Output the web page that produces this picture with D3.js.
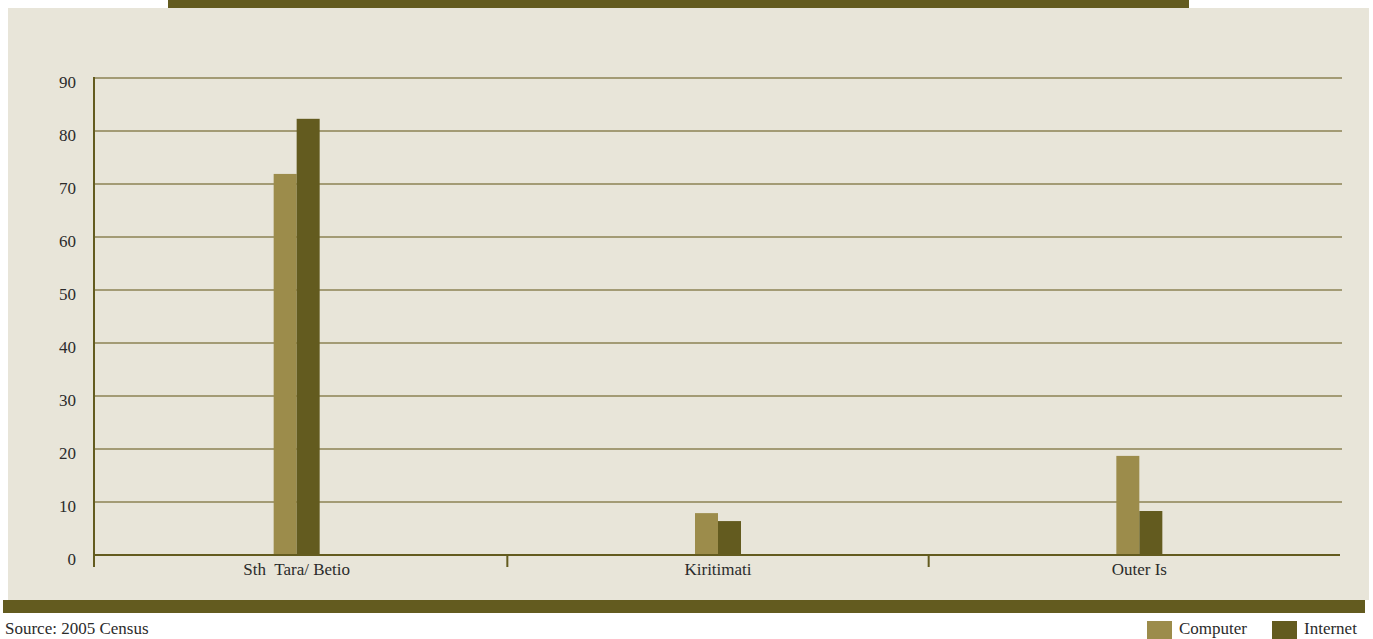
<!DOCTYPE html>
<html>
<head>
<meta charset="utf-8">
<script src="https://cdn.jsdelivr.net/npm/d3@7"></script>
<style>
  body { margin: 0; background: #ffffff; overflow: hidden; }
  text { font-family: "Liberation Serif", "DejaVu Serif", serif; fill: #2b2b2b; white-space: pre; }
</style>
</head>
<body>
<script>
// Data
var categories = ["Sth  Tara/ Betio", "Kiritimati", "Outer Is"];
var seriesNames = ["Computer", "Internet"];
var computerValues = [71.9, 7.9, 18.7];
var internetValues = [82.3, 6.4, 8.3];
var yTicks = [0, 10, 20, 30, 40, 50, 60, 70, 80, 90];

var svgWidth = 1373;
var svgHeight = 639;
var fontSize = "17px";

var colors = { Computer: "#9c8c4b", Internet: "#635b1f" };

var svg = d3.select("body")
    .append("svg")
    .attr("width", svgWidth)
    .attr("height", svgHeight);

// Panel background and the two dark bands
svg.append("rect")
    .attr("x", 8).attr("y", 8)
    .attr("width", 1361).attr("height", 592)
    .attr("fill", "#e8e5d9");

svg.append("rect")
    .attr("x", 168).attr("y", 0)
    .attr("width", 1021).attr("height", 8)
    .attr("fill", "#635b1f");

svg.append("rect")
    .attr("x", 3).attr("y", 600)
    .attr("width", 1362).attr("height", 13)
    .attr("fill", "#635b1f");

// Scales
var xScale = d3.scaleBand()
    .domain(categories)
    .range([86, 1350])
    .paddingInner(0)
    .paddingOuter(0);

var xSub = d3.scaleBand()
    .domain(seriesNames)
    .range([-23, 23]);

var yScale = d3.scaleLinear()
    .domain([0, 90])
    .range([555, 78]);

// Gridlines
svg.append("g")
    .selectAll("line")
    .data(yTicks.filter(d => d > 0))
    .enter()
    .append("line")
    .attr("x1", 94)
    .attr("x2", 1342)
    .attr("y1", d => yScale(d))
    .attr("y2", d => yScale(d))
    .attr("stroke", "#a39b75")
    .attr("stroke-width", 2);

// Y axis
var leftAxis = d3.axisLeft(yScale)
    .tickValues(yTicks)
    .tickSize(0)
    .tickPadding(18);

var yAxisG = svg.append("g")
    .attr("transform", "translate(94,0)")
    .call(leftAxis);
yAxisG.select(".domain").remove();
yAxisG.selectAll("text")
    .attr("dy", "0.55em")
    .style("font-size", fontSize)
    .style("font-family", "Liberation Serif, serif")
    .attr("fill", "#2b2b2b");

svg.append("line")
    .attr("x1", 94).attr("x2", 94)
    .attr("y1", 77).attr("y2", 567)
    .attr("stroke", "#635b1f")
    .attr("stroke-width", 2);

// Bars
var data = categories.map(function (c, i) {
    return { cat: c, values: [
        { key: "Computer", value: computerValues[i] },
        { key: "Internet", value: internetValues[i] }
    ] };
});

var groups = svg.selectAll(".grp")
    .data(data)
    .enter()
    .append("g")
    .attr("class", "grp")
    .attr("transform", d => `translate(${xScale(d.cat) + xScale.bandwidth() / 2}, 0)`);

groups.selectAll("rect")
    .data(d => d.values)
    .enter()
    .append("rect")
    .attr("x", d => xSub(d.key))
    .attr("width", xSub.bandwidth())
    .attr("y", d => yScale(d.value))
    .attr("height", d => yScale(0) - yScale(d.value))
    .attr("fill", d => colors[d.key]);

// X axis
var bottomAxis = d3.axisBottom(xScale)
    .tickSize(0)
    .tickPadding(8);

var xAxisG = svg.append("g")
    .attr("transform", "translate(0,555)")
    .call(bottomAxis);
xAxisG.select(".domain").remove();
xAxisG.selectAll("text")
    .style("font-size", fontSize)
    .style("font-family", "Liberation Serif, serif")
    .style("white-space", "pre")
    .attr("fill", "#2b2b2b");

svg.append("line")
    .attr("x1", 93).attr("x2", 1340)
    .attr("y1", 555).attr("y2", 555)
    .attr("stroke", "#635b1f")
    .attr("stroke-width", 2);

// Category boundary ticks
svg.append("g")
    .selectAll("line")
    .data(categories.slice(1))
    .enter()
    .append("line")
    .attr("x1", d => xScale(d))
    .attr("x2", d => xScale(d))
    .attr("y1", 555)
    .attr("y2", 567)
    .attr("stroke", "#635b1f")
    .attr("stroke-width", 2);

// Source note
svg.append("text")
    .attr("x", 5)
    .attr("y", 634)
    .style("font-size", fontSize)
    .text("Source: 2005 Census");

// Legend
var legend = svg.append("g");
var legendX = [1147, 1272];
seriesNames.forEach(function (name, i) {
    legend.append("rect")
        .attr("x", legendX[i])
        .attr("y", 621)
        .attr("width", 25)
        .attr("height", 18)
        .attr("fill", colors[name]);
    legend.append("text")
        .attr("x", legendX[i] + 32)
        .attr("y", 634)
        .style("font-size", fontSize)
        .text(name);
});
</script>
</body>
</html>
